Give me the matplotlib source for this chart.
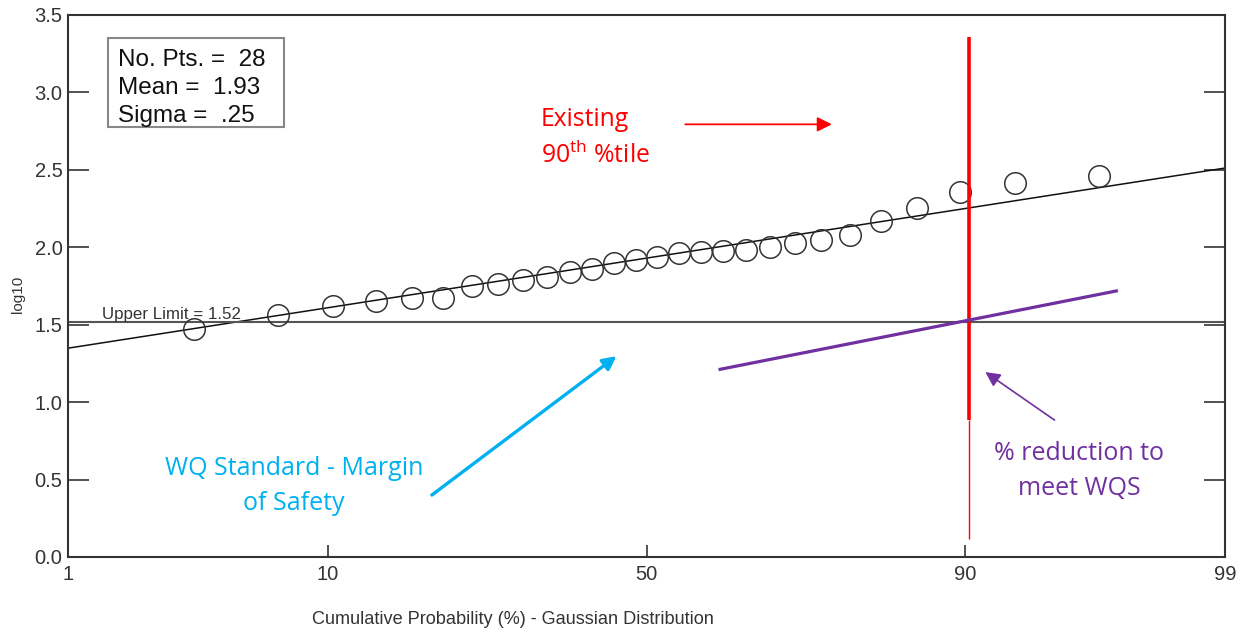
import matplotlib.pyplot as plt
from matplotlib.patches import Rectangle
from statistics import NormalDist

# sorted log10 results
log_values = [1.47, 1.56, 1.62, 1.65, 1.67, 1.675, 1.75, 1.765, 1.79, 1.81,
              1.84, 1.86, 1.90, 1.915, 1.94, 1.96, 1.97, 1.975, 1.985, 2.005,
              2.03, 2.05, 2.08, 2.17, 2.255, 2.36, 2.415, 2.46]
n_pts = 28
mean_log = 1.93
sigma_log = 0.25
upper_limit = 1.52

prob_ticks = [1, 10, 50, 90, 99]
y_ticks = [0.0, 0.5, 1.0, 1.5, 2.0, 2.5, 3.0, 3.5]

# hand-drawn overlays (percentile, log10)
existing_pct = 90.3
existing_top, existing_mid, existing_bot = 3.355, 0.884, 0.116
reduction_pct = [61.4, 97.1]
reduction_val = [1.21, 1.72]

TEXT = '#333333'
ANNOT_FONT = ['Open Sans', 'DejaVu Sans']
plt.rcParams['font.family'] = ['Liberation Sans', 'DejaVu Sans']
plt.rcParams['mathtext.fontset'] = 'custom'
plt.rcParams['mathtext.rm'] = 'Open Sans'


def z(p):
    """percent -> standard normal quantile"""
    return NormalDist().inv_cdf(p / 100.0)


fig = plt.figure(figsize=(12.47, 6.36), dpi=100)
ax = fig.add_axes([68 / 1247, 79 / 636, 1157 / 1247, 542 / 636])

# data points at Weibull plotting positions
xs = [z(100.0 * (i + 1) / (n_pts + 1)) for i in range(n_pts)]
ax.plot(xs, log_values, 'o', ms=15.5, mfc='none', mec='#333333', mew=1.1, zorder=3)

# fitted gaussian line
x0, x1 = z(prob_ticks[0]), z(prob_ticks[-1])
ax.plot([x0, x1], [mean_log + sigma_log * x0, mean_log + sigma_log * x1],
        color='#111111', lw=1.1, zorder=2)

# upper limit
ax.axhline(upper_limit, color='#555555', lw=1.5, zorder=2)
ax.text(z(1.43), upper_limit + 0.02, f'Upper Limit = {upper_limit:.2f}',
        fontsize=12.2, color=TEXT, va='baseline', ha='left')

# existing 90th percentile marker
xe = z(existing_pct)
ax.plot([xe, xe], [existing_top, existing_mid], color='#FF0000', lw=2.6, zorder=4,
        solid_capstyle='butt')
ax.plot([xe, xe], [existing_mid, existing_bot], color='#FF0000', lw=1.0, zorder=4,
        solid_capstyle='butt')

# reduction line
ax.plot([z(p) for p in reduction_pct], reduction_val, color='#7030A0', lw=2.3,
        zorder=5, solid_capstyle='butt')

# annotations
ax.annotate('', xy=(z(77.2), 2.794), xytext=(z(56.2), 2.794),
            arrowprops=dict(arrowstyle='-|>', color='#FF0000', lw=1.3,
                            mutation_scale=22, shrinkA=0, shrinkB=0))
ax.text(z(33.5), 2.705, 'Existing\n90$^{\\mathrm{th}}$ %tile', color='#FF0000',
        fontsize=17.8, family=ANNOT_FONT, ha='left', va='center', linespacing=1.45)

ax.annotate('', xy=(z(45.2), 1.297), xytext=(z(19.4), 0.40),
            arrowprops=dict(arrowstyle='-|>', color='#00B0F0', lw=2.4,
                            mutation_scale=20, shrinkA=0, shrinkB=0))
ax.text(z(7.8), 0.458, 'WQ Standard - Margin\nof Safety', color='#00B0F0',
        fontsize=18, family=ANNOT_FONT, ha='center', va='center',
        multialignment='center', linespacing=1.5)

ax.annotate('', xy=(z(91.35), 1.194), xytext=(z(94.96), 0.884),
            arrowprops=dict(arrowstyle='-|>', color='#7030A0', lw=1.2,
                            mutation_scale=22, shrinkA=0, shrinkB=0))
ax.text(z(95.9), 0.555, '% reduction to\nmeet WQS', color='#7030A0',
        fontsize=18, family=ANNOT_FONT, ha='center', va='center',
        multialignment='center', linespacing=1.5)

# stats box
ax.add_patch(Rectangle((0.0346, 0.7934), 0.1521, 0.1642, transform=ax.transAxes,
                       fill=False, ec='#888888', lw=1.5, zorder=6))
ax.text(0.0432, 0.938, f'No. Pts. =  {n_pts}\nMean =  {mean_log:.2f}\nSigma =  .{int(sigma_log * 100)}',
        transform=ax.transAxes, fontsize=17.5, color='#111111', va='top', ha='left',
        linespacing=1.36, zorder=6)

# axes
ax.set_xlim(x0, x1)
ax.set_ylim(0, 3.5)
ax.set_xticks([z(p) for p in prob_ticks])
ax.set_xticklabels([str(p) for p in prob_ticks])
ax.set_yticks(y_ticks)
ax.set_yticklabels([f'{v:.1f}' for v in y_ticks])
ax.tick_params(axis='y', direction='in', length=15, width=1.2, colors='#333333',
               labelsize=14.5, pad=4, right=True)
ax.tick_params(axis='x', direction='in', length=9, width=1.2, colors='#333333',
               labelsize=14.5, pad=6)
for s in ax.spines.values():
    s.set_color('#333333')
    s.set_linewidth(1.5)

fig.text(18 / 1247, 1 - 294 / 636, 'log10', rotation=90, fontsize=11, color=TEXT,
         ha='center', va='center')
fig.text(513 / 1247, 1 - 620 / 636, 'Cumulative Probability (%) - Gaussian Distribution',
         fontsize=13.1, color=TEXT, ha='center', va='center')

fig.savefig('out.png', dpi=100)
